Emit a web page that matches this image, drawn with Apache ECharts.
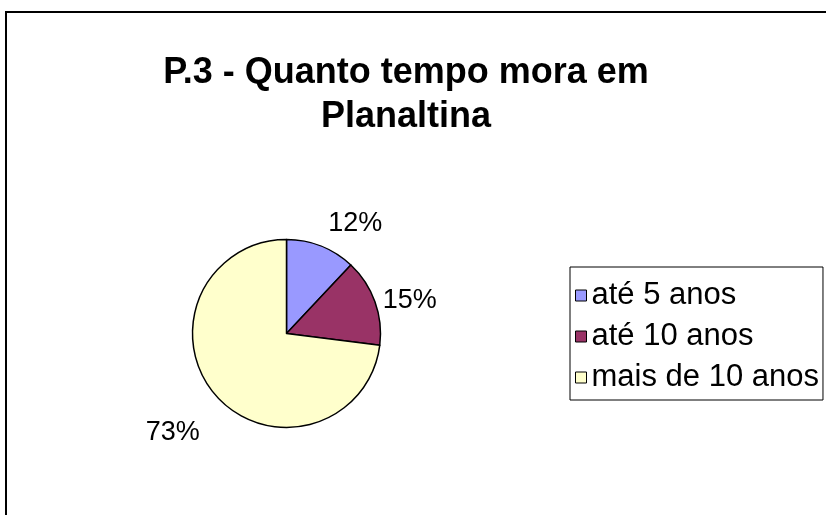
<!DOCTYPE html>
<html>
<head>
<meta charset="utf-8">
<script src="https://cdn.jsdelivr.net/npm/echarts@6/dist/echarts.min.js"></script>
<style>
html,body{margin:0;padding:0;background:#fff;}
#chart{width:826px;height:515px;}
</style>
</head>
<body>
<div id="chart"></div>
<script>
const titleText = 'P.3 - Quanto tempo mora em\nPlanaltina';
const categories = ['até 5 anos', 'até 10 anos', 'mais de 10 anos'];
const values = [12, 15, 73];
const colors = ['#9999FF', '#993366', '#FFFFCC'];
const labelLineLengths = [22, 3, 15];
const labelNudgeX = [-6, 0, 0];
const labelNudgeY = [-2, 0, 27];

const FONT = 'Liberation Sans, Arial, sans-serif';
const chart = echarts.init(document.getElementById('chart'), null, {renderer: 'canvas'});
chart.setOption({
  animation: false,
  backgroundColor: '#ffffff',
  graphic: [{
    type: 'rect',
    shape: {x: 6, y: 12, width: 1000, height: 700},
    style: {fill: 'none', stroke: '#000', lineWidth: 2},
    silent: true, z: -1
  }],
  title: {
    text: titleText,
    left: 406,
    top: 51,
    padding: 0,
    textAlign: 'center',
    textStyle: {fontFamily: FONT, fontSize: 36, fontWeight: 'bold', color: '#000', lineHeight: 44}
  },
  legend: {
    orient: 'vertical',
    left: 570,
    top: 267,
    padding: [13, 4, 7, 5],
    borderColor: '#000',
    borderWidth: 1,
    itemWidth: 11,
    itemHeight: 11,
    itemGap: 10,
    icon: 'rect',
    data: categories,
    textStyle: {fontFamily: FONT, fontSize: 31, color: '#000', lineHeight: 30},
    itemStyle: {borderColor: '#000', borderWidth: 1}
  },
  series: [{
    type: 'pie',
    center: [286.5, 333.5],
    radius: 94,
    startAngle: 90,
    clockwise: true,
    avoidLabelOverlap: false,
    itemStyle: {borderColor: '#000', borderWidth: 1.5},
    label: {
      show: true,
      position: 'outside',
      formatter: p => Math.round(p.percent) + '%',
      fontFamily: FONT, fontSize: 27, color: '#000'
    },
    labelLine: {show: false, length: 20, length2: 0},
    labelLayout: p => ({dx: labelNudgeX[p.dataIndex], dy: labelNudgeY[p.dataIndex]}),
    emphasis: {disabled: true},
    data: categories.map((c, i) => ({
      name: c,
      value: values[i],
      itemStyle: {color: colors[i]},
      labelLine: {length: labelLineLengths[i], length2: 0}
    }))
  }]
});
</script>
</body>
</html>
